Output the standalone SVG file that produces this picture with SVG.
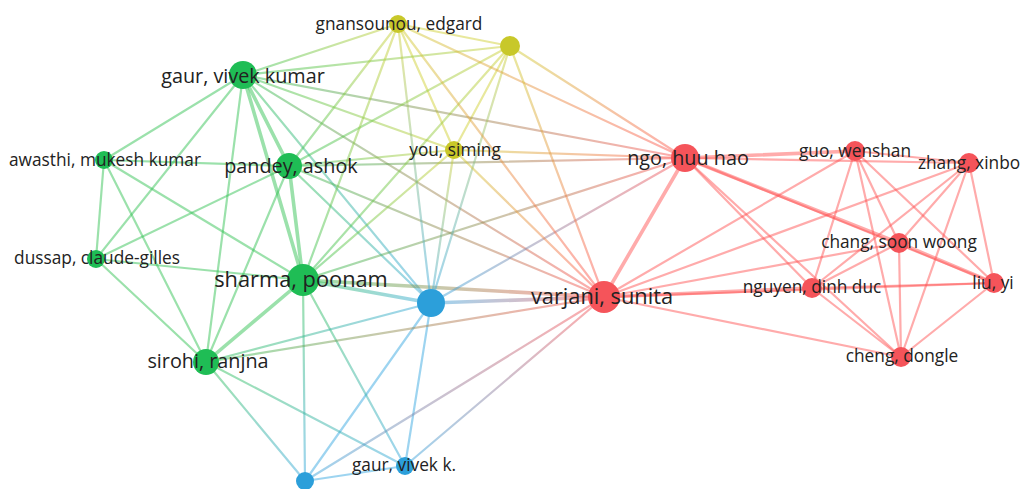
<svg xmlns="http://www.w3.org/2000/svg" width="1022" height="489" viewBox="0 0 1022 489">
<style>
.e{fill:none;stroke-width:2.2;stroke-opacity:.48;stroke-linecap:round}
.t{stroke-width:3.6}
.eg{stroke:#2ec050}
.ey{stroke:#cfcf30}
.eb{stroke:#33a6e0}
.er{stroke:#ff5050}
.ng{fill:#1fbd55}
.ny{fill:#c8c82a}
.nb{fill:#2c9fda}
.nr{fill:#f5545a}
text{font-family:"Open Sans","DejaVu Sans",sans-serif;fill:#222;text-anchor:middle}
.s{font-size:17.3px}
.l{font-size:19.8px}
.xl{font-size:21.8px}
</style>
<defs>
<linearGradient id="g1" gradientUnits="userSpaceOnUse" x1="243" y1="75" x2="398" y2="24"><stop offset="0" stop-color="#2ec050"/><stop offset="1" stop-color="#cfcf30"/></linearGradient>
<linearGradient id="g2" gradientUnits="userSpaceOnUse" x1="243" y1="75" x2="510" y2="46"><stop offset="0" stop-color="#2ec050"/><stop offset="1" stop-color="#cfcf30"/></linearGradient>
<linearGradient id="g3" gradientUnits="userSpaceOnUse" x1="243" y1="75" x2="454" y2="150"><stop offset="0" stop-color="#2ec050"/><stop offset="1" stop-color="#cfcf30"/></linearGradient>
<linearGradient id="g4" gradientUnits="userSpaceOnUse" x1="243" y1="75" x2="685" y2="158"><stop offset="0" stop-color="#2ec050"/><stop offset="1" stop-color="#ff5050"/></linearGradient>
<linearGradient id="g5" gradientUnits="userSpaceOnUse" x1="243" y1="75" x2="604" y2="297"><stop offset="0" stop-color="#2ec050"/><stop offset="1" stop-color="#ff5050"/></linearGradient>
<linearGradient id="g6" gradientUnits="userSpaceOnUse" x1="243" y1="75" x2="431" y2="303"><stop offset="0" stop-color="#2ec050"/><stop offset="1" stop-color="#33a6e0"/></linearGradient>
<linearGradient id="g7" gradientUnits="userSpaceOnUse" x1="289" y1="166" x2="398" y2="24"><stop offset="0" stop-color="#2ec050"/><stop offset="1" stop-color="#cfcf30"/></linearGradient>
<linearGradient id="g8" gradientUnits="userSpaceOnUse" x1="289" y1="166" x2="510" y2="46"><stop offset="0" stop-color="#2ec050"/><stop offset="1" stop-color="#cfcf30"/></linearGradient>
<linearGradient id="g9" gradientUnits="userSpaceOnUse" x1="289" y1="166" x2="454" y2="150"><stop offset="0" stop-color="#2ec050"/><stop offset="1" stop-color="#cfcf30"/></linearGradient>
<linearGradient id="g10" gradientUnits="userSpaceOnUse" x1="289" y1="166" x2="685" y2="158"><stop offset="0" stop-color="#2ec050"/><stop offset="1" stop-color="#ff5050"/></linearGradient>
<linearGradient id="g11" gradientUnits="userSpaceOnUse" x1="289" y1="166" x2="431" y2="303"><stop offset="0" stop-color="#2ec050"/><stop offset="1" stop-color="#33a6e0"/></linearGradient>
<linearGradient id="g12" gradientUnits="userSpaceOnUse" x1="289" y1="166" x2="604" y2="297"><stop offset="0" stop-color="#2ec050"/><stop offset="1" stop-color="#ff5050"/></linearGradient>
<linearGradient id="g13" gradientUnits="userSpaceOnUse" x1="303" y1="280" x2="398" y2="24"><stop offset="0" stop-color="#2ec050"/><stop offset="1" stop-color="#cfcf30"/></linearGradient>
<linearGradient id="g14" gradientUnits="userSpaceOnUse" x1="303" y1="280" x2="510" y2="46"><stop offset="0" stop-color="#2ec050"/><stop offset="1" stop-color="#cfcf30"/></linearGradient>
<linearGradient id="g15" gradientUnits="userSpaceOnUse" x1="303" y1="280" x2="454" y2="150"><stop offset="0" stop-color="#2ec050"/><stop offset="1" stop-color="#cfcf30"/></linearGradient>
<linearGradient id="g16" gradientUnits="userSpaceOnUse" x1="303" y1="280" x2="431" y2="303"><stop offset="0" stop-color="#2ec050"/><stop offset="1" stop-color="#33a6e0"/></linearGradient>
<linearGradient id="g17" gradientUnits="userSpaceOnUse" x1="303" y1="280" x2="604" y2="297"><stop offset="0" stop-color="#2ec050"/><stop offset="1" stop-color="#ff5050"/></linearGradient>
<linearGradient id="g18" gradientUnits="userSpaceOnUse" x1="303" y1="280" x2="685" y2="158"><stop offset="0" stop-color="#2ec050"/><stop offset="1" stop-color="#ff5050"/></linearGradient>
<linearGradient id="g19" gradientUnits="userSpaceOnUse" x1="303" y1="280" x2="305" y2="481"><stop offset="0" stop-color="#2ec050"/><stop offset="1" stop-color="#33a6e0"/></linearGradient>
<linearGradient id="g20" gradientUnits="userSpaceOnUse" x1="303" y1="280" x2="405" y2="466"><stop offset="0" stop-color="#2ec050"/><stop offset="1" stop-color="#33a6e0"/></linearGradient>
<linearGradient id="g21" gradientUnits="userSpaceOnUse" x1="206" y1="362" x2="431" y2="303"><stop offset="0" stop-color="#2ec050"/><stop offset="1" stop-color="#33a6e0"/></linearGradient>
<linearGradient id="g22" gradientUnits="userSpaceOnUse" x1="206" y1="362" x2="604" y2="297"><stop offset="0" stop-color="#2ec050"/><stop offset="1" stop-color="#ff5050"/></linearGradient>
<linearGradient id="g23" gradientUnits="userSpaceOnUse" x1="206" y1="362" x2="305" y2="481"><stop offset="0" stop-color="#2ec050"/><stop offset="1" stop-color="#33a6e0"/></linearGradient>
<linearGradient id="g24" gradientUnits="userSpaceOnUse" x1="206" y1="362" x2="405" y2="466"><stop offset="0" stop-color="#2ec050"/><stop offset="1" stop-color="#33a6e0"/></linearGradient>
<linearGradient id="g25" gradientUnits="userSpaceOnUse" x1="431" y1="303" x2="398" y2="24"><stop offset="0" stop-color="#33a6e0"/><stop offset="1" stop-color="#cfcf30"/></linearGradient>
<linearGradient id="g26" gradientUnits="userSpaceOnUse" x1="431" y1="303" x2="454" y2="150"><stop offset="0" stop-color="#33a6e0"/><stop offset="1" stop-color="#cfcf30"/></linearGradient>
<linearGradient id="g27" gradientUnits="userSpaceOnUse" x1="431" y1="303" x2="510" y2="46"><stop offset="0" stop-color="#33a6e0"/><stop offset="1" stop-color="#cfcf30"/></linearGradient>
<linearGradient id="g28" gradientUnits="userSpaceOnUse" x1="431" y1="303" x2="685" y2="158"><stop offset="0" stop-color="#33a6e0"/><stop offset="1" stop-color="#ff5050"/></linearGradient>
<linearGradient id="g29" gradientUnits="userSpaceOnUse" x1="431" y1="303" x2="604" y2="297"><stop offset="0" stop-color="#33a6e0"/><stop offset="1" stop-color="#ff5050"/></linearGradient>
<linearGradient id="g30" gradientUnits="userSpaceOnUse" x1="398" y1="24" x2="604" y2="297"><stop offset="0" stop-color="#cfcf30"/><stop offset="1" stop-color="#ff5050"/></linearGradient>
<linearGradient id="g31" gradientUnits="userSpaceOnUse" x1="398" y1="24" x2="685" y2="158"><stop offset="0" stop-color="#cfcf30"/><stop offset="1" stop-color="#ff5050"/></linearGradient>
<linearGradient id="g32" gradientUnits="userSpaceOnUse" x1="510" y1="46" x2="685" y2="158"><stop offset="0" stop-color="#cfcf30"/><stop offset="1" stop-color="#ff5050"/></linearGradient>
<linearGradient id="g33" gradientUnits="userSpaceOnUse" x1="510" y1="46" x2="604" y2="297"><stop offset="0" stop-color="#cfcf30"/><stop offset="1" stop-color="#ff5050"/></linearGradient>
<linearGradient id="g34" gradientUnits="userSpaceOnUse" x1="454" y1="150" x2="685" y2="158"><stop offset="0" stop-color="#cfcf30"/><stop offset="1" stop-color="#ff5050"/></linearGradient>
<linearGradient id="g35" gradientUnits="userSpaceOnUse" x1="454" y1="150" x2="604" y2="297"><stop offset="0" stop-color="#cfcf30"/><stop offset="1" stop-color="#ff5050"/></linearGradient>
<linearGradient id="g36" gradientUnits="userSpaceOnUse" x1="305" y1="481" x2="604" y2="297"><stop offset="0" stop-color="#33a6e0"/><stop offset="1" stop-color="#ff5050"/></linearGradient>
<linearGradient id="g37" gradientUnits="userSpaceOnUse" x1="405" y1="466" x2="604" y2="297"><stop offset="0" stop-color="#33a6e0"/><stop offset="1" stop-color="#ff5050"/></linearGradient>
</defs>
<rect width="1022" height="489" fill="#ffffff"/>
<g id="connectors">
<line class="e eg" x1="243" y1="75" x2="104" y2="160"/>
<line class="e eg t" x1="243" y1="75" x2="289" y2="166"/>
<line class="e eg t" x1="243" y1="75" x2="303" y2="280"/>
<line class="e eg" x1="243" y1="75" x2="206" y2="362"/>
<line class="e eg" x1="243" y1="75" x2="96" y2="259"/>
<line class="e eg" x1="104" y1="160" x2="289" y2="166"/>
<line class="e eg" x1="104" y1="160" x2="96" y2="259"/>
<line class="e eg" x1="104" y1="160" x2="206" y2="362"/>
<line class="e eg" x1="104" y1="160" x2="303" y2="280"/>
<line class="e eg" x1="96" y1="259" x2="289" y2="166"/>
<line class="e eg" x1="96" y1="259" x2="303" y2="280"/>
<line class="e eg" x1="96" y1="259" x2="206" y2="362"/>
<line class="e eg" x1="206" y1="362" x2="289" y2="166"/>
<line class="e eg t" x1="206" y1="362" x2="303" y2="280"/>
<line class="e eg t" x1="289" y1="166" x2="303" y2="280"/>
<line class="e ey" x1="398" y1="24" x2="510" y2="46"/>
<line class="e ey" x1="398" y1="24" x2="454" y2="150"/>
<line class="e ey" x1="510" y1="46" x2="454" y2="150"/>
<line class="e eb" x1="431" y1="303" x2="305" y2="481"/>
<line class="e eb" x1="431" y1="303" x2="405" y2="466"/>
<line class="e eb" x1="305" y1="481" x2="405" y2="466"/>
<line class="e er t" x1="685" y1="158" x2="604" y2="297"/>
<line class="e er t" x1="685" y1="158" x2="855" y2="151"/>
<line class="e er" x1="685" y1="158" x2="969" y2="163"/>
<line class="e er t" x1="685" y1="158" x2="899" y2="243"/>
<line class="e er" x1="685" y1="158" x2="994" y2="283"/>
<line class="e er" x1="685" y1="158" x2="812" y2="288"/>
<line class="e er" x1="685" y1="158" x2="901" y2="357"/>
<line class="e er" x1="855" y1="151" x2="969" y2="163"/>
<line class="e er" x1="855" y1="151" x2="604" y2="297"/>
<line class="e er" x1="855" y1="151" x2="812" y2="288"/>
<line class="e er" x1="855" y1="151" x2="899" y2="243"/>
<line class="e er" x1="855" y1="151" x2="901" y2="357"/>
<line class="e er" x1="855" y1="151" x2="994" y2="283"/>
<line class="e er" x1="969" y1="163" x2="604" y2="297"/>
<line class="e er" x1="969" y1="163" x2="899" y2="243"/>
<line class="e er" x1="969" y1="163" x2="812" y2="288"/>
<line class="e er" x1="969" y1="163" x2="994" y2="283"/>
<line class="e er" x1="969" y1="163" x2="901" y2="357"/>
<line class="e er" x1="899" y1="243" x2="604" y2="297"/>
<line class="e er" x1="899" y1="243" x2="812" y2="288"/>
<line class="e er t" x1="899" y1="243" x2="994" y2="283"/>
<line class="e er" x1="899" y1="243" x2="901" y2="357"/>
<line class="e er t" x1="812" y1="288" x2="604" y2="297"/>
<line class="e er" x1="812" y1="288" x2="994" y2="283"/>
<line class="e er" x1="812" y1="288" x2="901" y2="357"/>
<line class="e er" x1="994" y1="283" x2="901" y2="357"/>
<line class="e er" x1="604" y1="297" x2="901" y2="357"/>
<line class="e er" x1="604" y1="297" x2="994" y2="283"/>
<line class="e" stroke="url(#g1)" x1="243" y1="75" x2="398" y2="24"/>
<line class="e" stroke="url(#g2)" x1="243" y1="75" x2="510" y2="46"/>
<line class="e" stroke="url(#g3)" x1="243" y1="75" x2="454" y2="150"/>
<line class="e" stroke="url(#g4)" x1="243" y1="75" x2="685" y2="158"/>
<line class="e" stroke="url(#g5)" x1="243" y1="75" x2="604" y2="297"/>
<line class="e" stroke="url(#g6)" x1="243" y1="75" x2="431" y2="303"/>
<line class="e" stroke="url(#g7)" x1="289" y1="166" x2="398" y2="24"/>
<line class="e" stroke="url(#g8)" x1="289" y1="166" x2="510" y2="46"/>
<line class="e" stroke="url(#g9)" x1="289" y1="166" x2="454" y2="150"/>
<line class="e" stroke="url(#g10)" x1="289" y1="166" x2="685" y2="158"/>
<line class="e" stroke="url(#g11)" x1="289" y1="166" x2="431" y2="303"/>
<line class="e" stroke="url(#g12)" x1="289" y1="166" x2="604" y2="297"/>
<line class="e" stroke="url(#g13)" x1="303" y1="280" x2="398" y2="24"/>
<line class="e" stroke="url(#g14)" x1="303" y1="280" x2="510" y2="46"/>
<line class="e" stroke="url(#g15)" x1="303" y1="280" x2="454" y2="150"/>
<line class="e t" stroke="url(#g16)" x1="303" y1="280" x2="431" y2="303"/>
<line class="e t" stroke="url(#g17)" x1="303" y1="280" x2="604" y2="297"/>
<line class="e" stroke="url(#g18)" x1="303" y1="280" x2="685" y2="158"/>
<line class="e" stroke="url(#g19)" x1="303" y1="280" x2="305" y2="481"/>
<line class="e" stroke="url(#g20)" x1="303" y1="280" x2="405" y2="466"/>
<line class="e" stroke="url(#g21)" x1="206" y1="362" x2="431" y2="303"/>
<line class="e" stroke="url(#g22)" x1="206" y1="362" x2="604" y2="297"/>
<line class="e" stroke="url(#g23)" x1="206" y1="362" x2="305" y2="481"/>
<line class="e" stroke="url(#g24)" x1="206" y1="362" x2="405" y2="466"/>
<line class="e" stroke="url(#g25)" x1="431" y1="303" x2="398" y2="24"/>
<line class="e" stroke="url(#g26)" x1="431" y1="303" x2="454" y2="150"/>
<line class="e" stroke="url(#g27)" x1="431" y1="303" x2="510" y2="46"/>
<line class="e" stroke="url(#g28)" x1="431" y1="303" x2="685" y2="158"/>
<line class="e t" stroke="url(#g29)" x1="431" y1="303" x2="604" y2="297"/>
<line class="e" stroke="url(#g30)" x1="398" y1="24" x2="604" y2="297"/>
<line class="e" stroke="url(#g31)" x1="398" y1="24" x2="685" y2="158"/>
<line class="e" stroke="url(#g32)" x1="510" y1="46" x2="685" y2="158"/>
<line class="e" stroke="url(#g33)" x1="510" y1="46" x2="604" y2="297"/>
<line class="e" stroke="url(#g34)" x1="454" y1="150" x2="685" y2="158"/>
<line class="e" stroke="url(#g35)" x1="454" y1="150" x2="604" y2="297"/>
<line class="e" stroke="url(#g36)" x1="305" y1="481" x2="604" y2="297"/>
<line class="e" stroke="url(#g37)" x1="405" y1="466" x2="604" y2="297"/>
</g>
<g id="node-yellow2"><circle class="ny" cx="510" cy="46" r="10"/></g>
<g id="node-blue1"><circle class="nb" cx="431" cy="303" r="14"/></g>
<g id="node-blue2"><circle class="nb" cx="305" cy="481" r="9"/></g>
<g id="node-gaur-vivek-k"><circle class="nb" cx="405" cy="466" r="9"/><text class="s" x="404" y="471">gaur, vivek k.</text></g>
<g id="node-gnansounou"><circle class="ny" cx="398" cy="24" r="9"/><text class="s" x="399" y="30">gnansounou, edgard</text></g>
<g id="node-you-siming"><circle class="ny" cx="454" cy="150" r="9"/><text class="s" x="455" y="156">you, siming</text></g>
<g id="node-awasthi"><circle class="ng" cx="104" cy="160" r="9"/><text class="s" x="105" y="166">awasthi, mukesh kumar</text></g>
<g id="node-dussap"><circle class="ng" cx="96" cy="259" r="9"/><text class="s" x="97" y="264">dussap, claude-gilles</text></g>
<g id="node-gaur-vivek-kumar"><circle class="ng" cx="243" cy="75" r="14"/><text class="l" x="243" y="83">gaur, vivek kumar</text></g>
<g id="node-pandey"><circle class="ng" cx="289" cy="166" r="13"/><text class="l" x="291" y="173">pandey, ashok</text></g>
<g id="node-sirohi"><circle class="ng" cx="206" cy="362" r="13"/><text class="l" x="208" y="368">sirohi, ranjna</text></g>
<g id="node-sharma"><circle class="ng" cx="303" cy="280" r="16"/><text class="xl" x="301" y="287">sharma, poonam</text></g>
<g id="node-guo"><circle class="nr" cx="855" cy="151" r="10"/><text class="s" x="855" y="157">guo, wenshan</text></g>
<g id="node-zhang"><circle class="nr" cx="969" cy="163" r="10"/><text class="s" x="969" y="169">zhang, xinbo</text></g>
<g id="node-chang"><circle class="nr" cx="899" cy="243" r="10"/><text class="s" x="899" y="248">chang, soon woong</text></g>
<g id="node-nguyen"><circle class="nr" cx="812" cy="288" r="10"/><text class="s" x="812" y="293">nguyen, dinh duc</text></g>
<g id="node-liu"><circle class="nr" cx="994" cy="283" r="10"/><text class="s" x="993" y="289">liu, yi</text></g>
<g id="node-cheng"><circle class="nr" cx="901" cy="357" r="10"/><text class="s" x="902" y="362">cheng, dongle</text></g>
<g id="node-ngo"><circle class="nr" cx="685" cy="158" r="14"/><text class="l" x="688" y="165">ngo, huu hao</text></g>
<g id="node-varjani"><circle class="nr" cx="604" cy="297" r="16"/><text class="xl" x="602" y="304">varjani, sunita</text></g>
</svg>
